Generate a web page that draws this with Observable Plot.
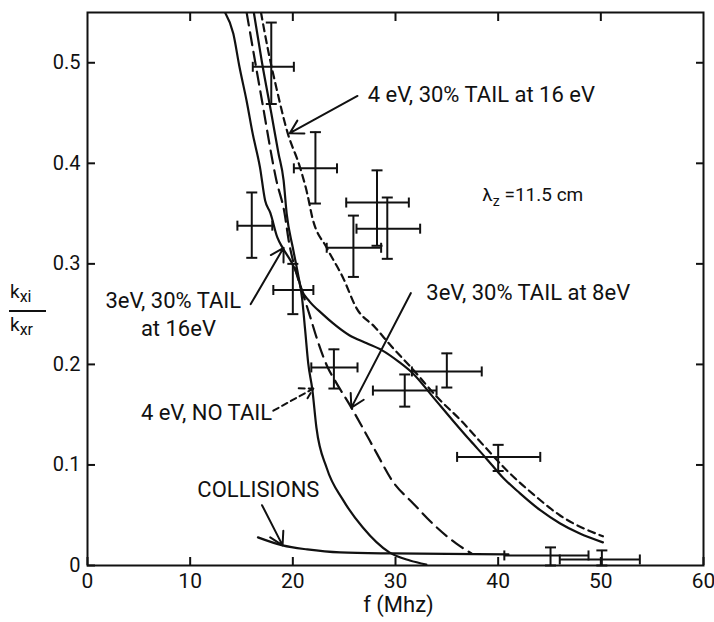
<!DOCTYPE html>
<html><head><meta charset="utf-8">
<script src="https://cdn.jsdelivr.net/npm/d3@7"></script>
<script src="https://cdn.jsdelivr.net/npm/@observablehq/plot@0.6"></script>
<style>body{margin:0;background:#fff}#chart svg{display:block}</style>
</head><body><div id="chart"></div>
<script>
// ---- tick values ----
const xTicks = [0, 10, 20, 30, 40, 50, 60];
const yTicks = [0, 0.1, 0.2, 0.3, 0.4, 0.5];
const yTickLabels = ["0", "0.1", "0.2", "0.3", "0.4", "0.5"];
const xLabel = "f (Mhz)";

// ---- curves (f in MHz, kxi/kxr) ----
// 3 eV, 30% tail at 16 eV (solid, with shoulder)
const s1F = [13.4,14.2,14.8,15.5,16.1,16.8,17.3,17.8,18.5,19.0,19.9,20.4,20.9,21.6,22.9,23.9,25.5,27.2,28.7,30.4,31.7,33.7,35.6,37.3,38.8,40.5,42.1,44.1,46.0,47.9,50.2];
const s1V = [0.55,0.529,0.496,0.462,0.429,0.396,0.363,0.351,0.326,0.316,0.301,0.290,0.273,0.263,0.250,0.241,0.229,0.221,0.214,0.202,0.191,0.167,0.144,0.124,0.107,0.087,0.072,0.055,0.042,0.032,0.023];
// 4 eV, 30% tail at 16 eV (short dashed)
const sdF = [16.9,17.6,18.4,19.5,20.7,21.4,21.9,23.3,24.9,26.2,28.0,29.6,31.7,34.0,36.3,38.8,40.8,43.4,46.0,50.2];
const sdV = [0.55,0.512,0.475,0.430,0.396,0.370,0.346,0.316,0.286,0.256,0.237,0.218,0.195,0.168,0.145,0.117,0.095,0.071,0.050,0.029];
// 3 eV, 30% tail at 8 eV (long dashed)
const d1F = [15.5,17.0,18.4,19.2,19.6,20.2,20.9,21.7,22.4,23.4,24.1,25.7,26.8,28.2,29.7,31.7,34.0,35.9,37.4];
const d1V = [0.55,0.462,0.383,0.350,0.323,0.296,0.273,0.247,0.224,0.197,0.184,0.157,0.137,0.111,0.084,0.062,0.038,0.022,0.012];
// 4 eV, no tail (solid)
const s2F = [16.2,17.0,17.9,18.6,19.1,19.4,20.0,20.5,20.9,21.2,21.5,21.9,22.3,23.3,24.9,26.8,29.4,31.4,33.0];
const s2V = [0.55,0.50,0.45,0.41,0.383,0.350,0.316,0.290,0.266,0.234,0.201,0.175,0.137,0.097,0.065,0.038,0.013,0.005,0.001];
// collisions (solid)
const cF = [16.6,19.0,21.4,24.6,29.7,35.0,41.0];
const cV = [0.028,0.020,0.016,0.013,0.012,0.0115,0.011];

// ---- measured points with error bars ----
const ptF   = [17.9,22.2,16.0,20.0,25.9,28.2,29.2,24.0,30.9,35.0,40.0,45.1,50.1];
const ptV   = [0.496,0.395,0.338,0.274,0.316,0.361,0.335,0.197,0.174,0.193,0.108,0.010,0.006];
const ptFLo = [16.1,20.1,14.6,18.1,23.3,25.2,26.2,21.8,27.8,31.6,36.0,40.6,46.0];
const ptFHi = [20.1,24.3,18.0,22.0,28.6,31.3,32.4,26.3,34.0,38.4,44.1,48.8,53.8];
const ptVLo = [0.459,0.360,0.306,0.250,0.287,0.318,0.305,0.176,0.158,0.177,0.094,0.0,0.0];
const ptVHi = [0.540,0.431,0.371,0.300,0.348,0.393,0.366,0.215,0.190,0.211,0.120,0.018,0.015];

// ---- annotations ----
const noteText = ["4 eV, 30% TAIL at 16 eV", "3eV, 30% TAIL at 8eV", "3eV, 30% TAIL", "at 16eV", "4 eV, NO TAIL", "COLLISIONS"];
const noteF = [27.3, 33.0, 1.75, 5.2, 5.2, 10.7];
const noteV = [0.468, 0.271, 0.263, 0.235, 0.152, 0.075];
const arrowF1 = [26.3, 31.5, 15.9, 17.0];
const arrowV1 = [0.467, 0.271, 0.260, 0.060];
const arrowF2 = [19.7, 25.7, 19.1, 19.0];
const arrowV2 = [0.430, 0.157, 0.316, 0.020];
const dashArrowF1 = [18.1], dashArrowV1 = [0.154], dashArrowF2 = [22.0], dashArrowV2 = [0.176];
const lambdaF = [38.5], lambdaV = [0.368];

const rows = (fs, vs) => fs.map((f, i) => ({f, v: vs[i]}));
const pts = ptF.map((f, i) => ({f, v: ptV[i], fLo: ptFLo[i], fHi: ptFHi[i], vLo: ptVLo[i], vHi: ptVHi[i]}));
const notes = noteText.map((t, i) => ({t, f: noteF[i], v: noteV[i]}));
const arrows = arrowF1.map((f, i) => ({f1: f, v1: arrowV1[i], f2: arrowF2[i], v2: arrowV2[i]}));
const dashArrows = dashArrowF1.map((f, i) => ({f1: f, v1: dashArrowV1[i], f2: dashArrowF2[i], v2: dashArrowV2[i]}));

const hCap = {draw(ctx, size) { const r = Math.sqrt(size / Math.PI); ctx.moveTo(-r, 0); ctx.lineTo(r, 0); }};
const vCap = {draw(ctx, size) { const r = Math.sqrt(size / Math.PI); ctx.moveTo(0, -r); ctx.lineTo(0, r); }};

const FONT = "Roboto, 'Liberation Sans', sans-serif";
const ink = "#111";
const lineOpts = {x: "f", y: "v", curve: "monotone-x", stroke: ink, strokeWidth: 2.2, clip: true};

const chart = Plot.plot({
  width: 714, height: 622,
  marginLeft: 87, marginRight: 11, marginTop: 12, marginBottom: 57,
  style: {fontFamily: FONT, fontSize: "20px", color: ink, background: "#fff"},
  x: {domain: [0, 60]},
  y: {domain: [0, 0.55]},
  marks: [
    Plot.axisY(yTicks, {anchor: "left", tickSize: -8, tickPadding: 15, strokeWidth: 2, tickFormat: (d, i) => yTickLabels[i], label: null, fontSize: 20}),
    Plot.axisY(yTicks.slice(1), {anchor: "right", tickSize: -8, strokeWidth: 2, tickFormat: () => "", label: null}),
    Plot.axisX(xTicks, {anchor: "bottom", tickSize: -8, tickPadding: 16, strokeWidth: 2, tickFormat: d => String(d), label: null, fontSize: 21}),
    Plot.axisX(xTicks.slice(1, -1), {anchor: "top", tickSize: -8, strokeWidth: 2, tickFormat: () => "", label: null}),
    Plot.frame({stroke: ink, strokeWidth: 2}),
    Plot.text([xLabel], {frameAnchor: "bottom", dy: 46, dx: 3, fontSize: 22, letterSpacing: 1}),
    // curves
    Plot.line(rows(s1F, s1V), lineOpts),
    Plot.line(rows(s2F, s2V), lineOpts),
    Plot.line(rows(d1F, d1V), {...lineOpts, strokeDasharray: "13,7"}),
    Plot.line(rows(sdF, sdV), {...lineOpts, strokeDasharray: "7,5"}),
    Plot.line(rows(cF, cV), lineOpts),
    // error bars
    Plot.ruleX(pts, {x: "f", y1: "vLo", y2: "vHi", stroke: ink, strokeWidth: 2}),
    Plot.ruleY(pts, {y: "v", x1: "fLo", x2: "fHi", stroke: ink, strokeWidth: 2}),
    Plot.dot(pts, {x: "f", y: "vLo", symbol: hCap, r: 5.5, stroke: ink, strokeWidth: 2, fill: "none"}),
    Plot.dot(pts, {x: "f", y: "vHi", symbol: hCap, r: 5.5, stroke: ink, strokeWidth: 2, fill: "none"}),
    Plot.dot(pts, {x: "fLo", y: "v", symbol: vCap, r: 5, stroke: ink, strokeWidth: 2, fill: "none"}),
    Plot.dot(pts, {x: "fHi", y: "v", symbol: vCap, r: 5, stroke: ink, strokeWidth: 2, fill: "none"}),
    // annotations
    Plot.arrow(arrows, {x1: "f1", y1: "v1", x2: "f2", y2: "v2", stroke: ink, strokeWidth: 2, headLength: 11}),
    Plot.arrow(dashArrows, {x1: "f1", y1: "v1", x2: "f2", y2: "v2", stroke: ink, strokeWidth: 2, headLength: 11, strokeDasharray: "6,4"}),
    Plot.text(notes, {x: "f", y: "v", text: "t", textAnchor: "start", fontSize: 22, fill: ink})
  ]
});
document.getElementById("chart").appendChild(chart);

// y-axis label as a fraction and the lambda note with subscript
const svg = d3.select(chart);
const g = svg.append("g").attr("fill", ink).attr("text-anchor", "start").style("font-family", FONT);
const kxi = g.append("text").attr("x", 10).attr("y", 298).attr("font-size", 19);
kxi.append("tspan").text("k");
kxi.append("tspan").attr("dy", 4).attr("font-size", 16).text("xi");
g.append("line").attr("x1", 9).attr("x2", 46).attr("y1", 311).attr("y2", 311).attr("stroke", ink).attr("stroke-width", 2);
const kxr = g.append("text").attr("x", 10).attr("y", 331).attr("font-size", 19);
kxr.append("tspan").text("k");
kxr.append("tspan").attr("dy", 4).attr("font-size", 16).text("xr");

const sx = chart.scale("x"), sy = chart.scale("y");
const lam = g.append("text").attr("x", sx.apply(lambdaF[0])).attr("y", sy.apply(lambdaV[0]) + 6).attr("font-size", 19);
lam.append("tspan").text("λ");
lam.append("tspan").attr("dy", 5).attr("font-size", 14).text("z");
lam.append("tspan").attr("dy", -5).text(" =11.5 cm");
</script></body></html>
